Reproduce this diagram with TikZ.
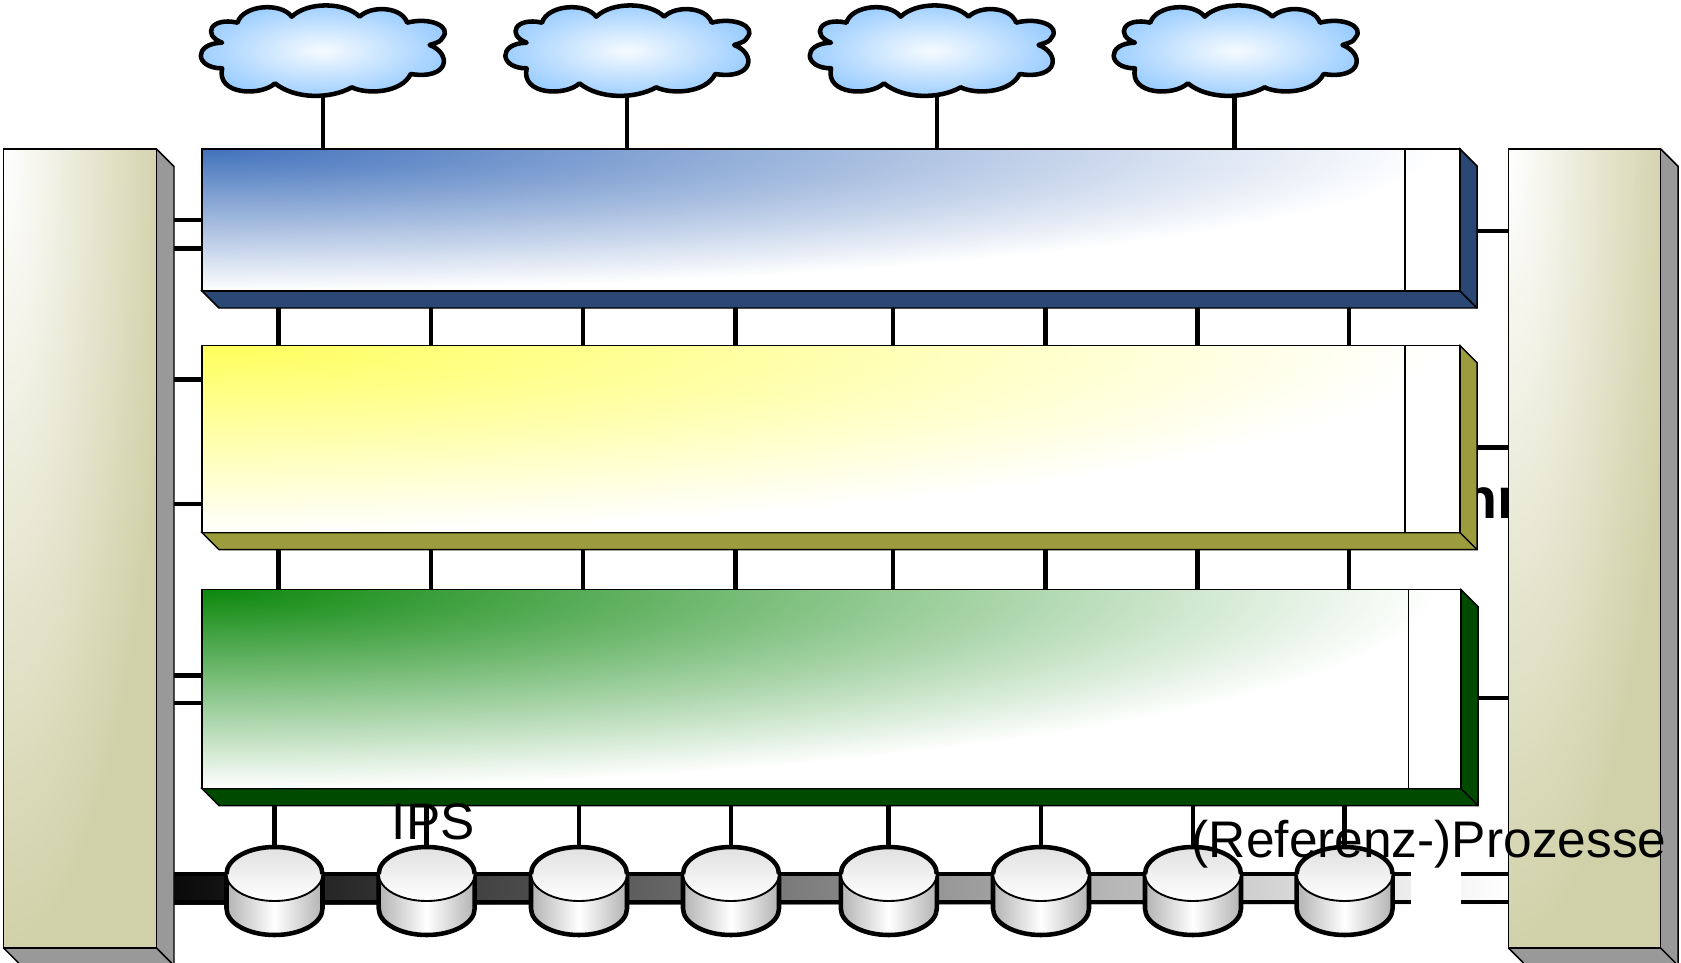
\documentclass[tikz,border=0pt]{standalone}
\usepackage{fontspec}
\setmainfont{Liberation Sans}
\definecolor{khaki}{HTML}{D1D1A9}
\definecolor{sidegray}{HTML}{999999}
\definecolor{bluedark}{HTML}{2A4873}
\definecolor{bluetop}{HTML}{4272BC}
\definecolor{olive}{HTML}{9C9C3C}
\definecolor{yellowtop}{HTML}{FFFF5C}
\definecolor{greendark}{HTML}{004A00}
\definecolor{greentop}{HTML}{0C880C}
\definecolor{cloudblue}{HTML}{99CCFF}
\definecolor{cloudwhite}{HTML}{F6FBFF}
\tikzset{
  link/.style={line width=3.5pt,black},
  edge/.style={line width=1.1pt,draw=black,line join=miter},
  heavy/.style={line width=3.4pt,draw=black,line join=round},
  bigtext/.style={inner sep=0pt,anchor=base west,text=black}
}
% name, x1, y1, x2, y2, depth colour, start colour, divider x
\newcommand{\slab}[8]{%
  \coordinate (#1-n) at (#2,#3);
  \coordinate (#1-s) at (#2+17,#5+17);
  \coordinate (#1-e) at (#4+17,#3);
  \fill[#6] (#2,#5) -- (#4,#5) -- (#4,#3) -- (#4+17,#3+17) -- (#4+17,#5+17) -- (#2+17,#5+17) -- cycle;
  \draw[edge] (#2,#5) -- (#4,#5) -- (#4,#3) -- (#4+17,#3+17) -- (#4+17,#5+17) -- (#2+17,#5+17) -- cycle;
  \draw[edge] (#4,#5) -- (#4+17,#5+17);
  \fill[white] (#2,#3) rectangle (#4,#5);
  \begin{scope}
    \clip (#2,#3) rectangle (#4,#5);
    \shade[inner color=#7,outer color=white] (#2,#3) ellipse [x radius=1235,y radius=#5-#3];
  \end{scope}
  \draw[edge] (#2,#3) rectangle (#4,#5);
  \draw[edge] (#8,#3) -- (#8,#5);
}
% name, x1, x2
\newcommand{\tower}[3]{%
  \coordinate (#1-w) at (#2,149);
  \coordinate (#1-e) at (#3+17.5,149);
  \fill[sidegray] (#3,149) -- (#3+17.5,166.5) -- (#3+17.5,964) -- (#2+16,964) -- (#2,948) -- (#3,948) -- cycle;
  \draw[edge] (#3,149) -- (#3+17.5,166.5) -- (#3+17.5,963);
  \draw[edge] (#2,948) -- (#2+15,963);
  \draw[edge] (#3,948) -- (#3+15,963);
  \fill[khaki] (#2,149) rectangle (#3,948);
  \begin{scope}
    \clip (#2,149) rectangle (#3,948);
    \shade[inner color=white,outer color=khaki] (#2,149) ellipse [x radius=165,y radius=800];
  \end{scope}
  \draw[edge] (#2,149) rectangle (#3,948);
}
\def\cloudoutline{(665,68) .. controls (680,15) and (785,5) .. (817,50)
      .. controls (860,5) and (965,5) .. (1007,50)
      .. controls (1040,15) and (1125,20) .. (1140,68)
      .. controls (1205,50) and (1265,80) .. (1240,112)
      .. controls (1232,125) .. (1203,135)
      .. controls (1265,160) and (1260,240) .. (1150,222)
      .. controls (1125,278) and (1030,285) .. (985,262)
      .. controls (925,298) and (825,298) .. (770,250)
      .. controls (730,290) and (605,285) .. (622,205)
      .. controls (545,205) and (540,130) .. (622,128)
      .. controls (565,105) and (590,50) .. (665,68) -- cycle}
\newcommand{\cloudshape}[1]{%
  \begin{scope}[x=0.26786pt,y=-0.25pt,shift={(#1,0)}]
    \shade[inner color=cloudwhite,outer color=cloudblue] \cloudoutline;
    \draw[heavy] \cloudoutline;
  \end{scope}
}
% name, centre x
\newcommand{\drum}[2]{%
  \coordinate (#1) at (#2,847);
  \shade[left color=black!30,right color=black!30,middle color=white]
    (#2-48,874) -- (#2-48,908.5) arc[start angle=180,end angle=360,x radius=48,y radius=-26.5] -- (#2+48,874) -- cycle;
  \draw[heavy] (#2-48,874) -- (#2-48,908.5) arc[start angle=180,end angle=360,x radius=48,y radius=-26.5] -- (#2+48,874);
  \shade[top color=black!12,bottom color=white] (#2,874) ellipse [x radius=48,y radius=27];
  \draw[edge,line width=1.4pt] (#2,874) ellipse [x radius=48,y radius=27];
  \draw[heavy] (#2-48,874) arc[start angle=180,end angle=0,x radius=48,y radius=-27];
}
\begin{document}
\begin{tikzpicture}[x=0.75pt,y=-0.75pt]
\useasboundingbox (0,0) rectangle (1681,963);
\clip (0,0) rectangle (1681,963);
\fill[white] (0,0) rectangle (1681,963);

% bus
\shade[left color=black!96,right color=white] (174,872) rectangle (1508,904);
\draw[link,line width=3pt] (174,874) -- (1508,874);
\draw[link,line width=3pt] (174,902) -- (1508,902);
\fill[white] (1411,870) rectangle (1461,906);

% hidden bold label behind the yellow slab and right tower
\node[bigtext,font=\bfseries\fontsize{43}{43}\selectfont] (hidden) at (1462,518) {nr};

% named anchors for the connectors
\foreach \n/\x in {1/323,2/627,3/937,4/1234.5}{\coordinate (cloud\n) at (\x,90);}
\foreach \n/\x in {1/278.7,2/431,3/583,4/735.5,5/893,6/1045.3,7/1197.5,8/1349}{\coordinate (v\n) at (\x,320);}
\foreach \n/\y in {1/220,2/248.3,3/379.5,4/504,5/675.5,6/703}{\coordinate (ll\n) at (174,\y);}
\foreach \n/\y in {1/231,2/447.7,3/698}{\coordinate (rl\n) at (1478,\y);}
\coordinate (leftslab) at (202,0);
\coordinate (righttower) at (1508.5,0);

% connectors
\coordinate (blue-n) at (202,149);
\foreach \n in {1,2,3,4}{\draw[link] (cloud\n) -- (cloud\n |- blue-n);}
\foreach \n in {1,...,6}{\draw[link] (ll\n) -- (ll\n -| leftslab);}
\foreach \n in {1,2,3}{\draw[link] (rl\n) -- (rl\n -| righttower);}
\coordinate (blue-s) at (219,308);
\coordinate (yellow-n) at (202,345.7);
\coordinate (yellow-s) at (219,549.7);
\coordinate (green-n) at (202,589.6);
\foreach \n in {1,...,8}{
  \draw[link] (v\n |- blue-s) -- (v\n |- yellow-n);
  \draw[link] (v\n |- yellow-s) -- (v\n |- green-n);
}

% towers
\tower{lefttower}{3.6}{156.5}
\tower{righttowerbox}{1508.5}{1660.7}

% slabs
\slab{blue}{202}{149}{1460}{291}{bluedark}{bluetop}{1405}
\slab{yellow}{202}{345.7}{1460}{532.7}{olive}{yellowtop}{1405}
\slab{green}{202}{589.6}{1461}{788.7}{greendark}{greentop}{1408.5}

% clouds
\cloudshape{0}
\cloudshape{852.6}
\cloudshape{1705}
\cloudshape{2556}

% drums
\foreach \n/\x in {1/274.5,2/426.7,3/579,4/731,5/888.8,6/1041,7/1193,8/1344.6}{
  \coordinate (dtop) at (\x,805);
  \coordinate (dpin) at (\x,847);
  \draw[link] (dtop) -- (dpin);
  \drum{d\n}{\x}
}

% texts
\node[bigtext,font=\fontsize{38.5}{38.5}\selectfont] (ips) at (391.5,839) {IPS};
\node[bigtext,font=\fontsize{38.6}{38.6}\selectfont] (proz) at (1191.5,857) {(Referenz-)Prozesse};
\end{tikzpicture}
\end{document}
